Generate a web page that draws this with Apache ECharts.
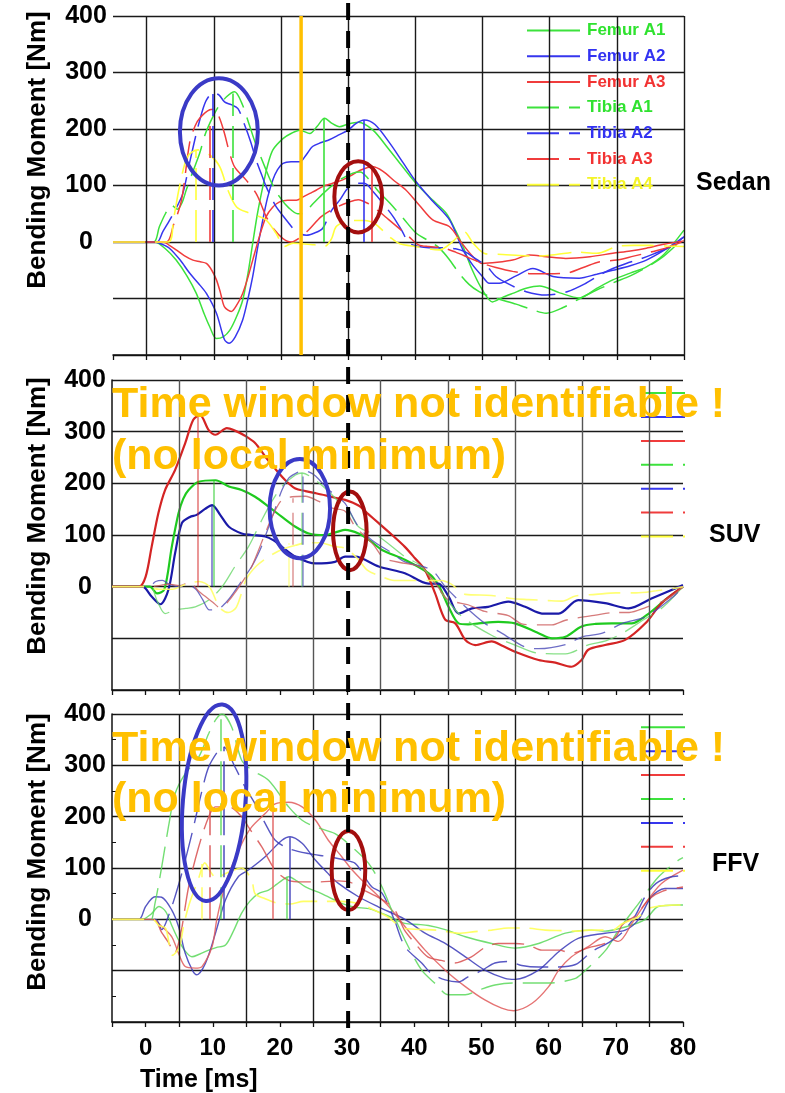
<!DOCTYPE html>
<html>
<head>
<meta charset="utf-8">
<script src="https://cdn.jsdelivr.net/npm/echarts@6/dist/echarts.min.js"></script>
<style>
  html, body { margin: 0; padding: 0; background: #ffffff; }
  #chart { width: 785px; height: 1093px; }
</style>
</head>
<body>
<div id="chart"></div>
<script>
// ---------- labels and ticks ----------
const seriesNames = ['Femur A1', 'Femur A2', 'Femur A3', 'Tibia A1', 'Tibia A2', 'Tibia A3', 'Tibia A4'];
const panelNames = ['Sedan', 'SUV', 'FFV'];
const xTickLabels = [0, 10, 20, 30, 40, 50, 60, 70, 80];
const yTickLabels = [0, 100, 200, 300, 400];
const sedanGridX = [0, 10, 20, 30, 40, 50, 60, 70, 80];
const otherGridX = [5, 15, 25, 35, 45, 55, 65, 75];
const windowT = [30];          // common evaluation time [ms]
const sedanOrangeT = [23];     // sedan time window limit [ms]

// ---------- Sedan: bending moment [Nm] over time [ms] ----------
const sedanFemurA1 = [[-5,0],[1.2,0],[2.8,-12],[4.4,-32],[6,-60],[7.4,-91],[8.5,-125],[9.4,-150],[10.4,-171],[11.4,-168],[12.4,-156],[13.4,-132],[14.3,-103],[15.1,-55],[15.8,-2],[16.5,50],[17.3,98],[18,135],[18.8,163],[20.3,183],[21.5,192],[22.8,198],[24.3,192],[25.4,205],[26.5,219],[27.6,210],[28.7,204],[30,209],[31.5,212],[33.7,198],[36,165],[38,135],[40.1,104],[42.5,75],[44.6,51],[46,20],[47.1,-8],[48.5,-50],[50,-85],[51.5,-106],[53,-98],[54.5,-91],[56.5,-82],[58.5,-78],[61.5,-90],[64.4,-99],[67,-82],[69.4,-67],[72,-55],[74.4,-44],[77,-22],[80,21]];
const sedanFemurA2 = [[-5,0],[1.2,0],[2.3,-4],[3.4,-11],[5,-32],[6.4,-55],[7.7,-73],[8.9,-91],[10.4,-126],[11.6,-173],[12.3,-179],[13.2,-168],[14.3,-138],[15.1,-100],[15.8,-61],[16.5,-12],[17.3,39],[18,78],[18.8,110],[19.5,128],[20.3,139],[21.5,142],[22.8,142],[23.8,155],[24.7,169],[26,176],[27.2,181],[28.7,190],[30,198],[31.2,210],[32.4,216],[34,208],[36.2,175],[38.2,140],[40.1,107],[42.6,72],[45.1,39],[47.1,-14],[48.5,-40],[50,-61],[51,-73],[52.5,-73],[55,-60],[57.5,-47],[60.5,-61],[64.4,-64],[67,-57],[69.4,-50],[72,-42],[74.4,-32],[77,-15],[80,9]];
const sedanFemurA3 = [[-5,0],[2.5,0],[3.4,-6],[4.4,-14],[5.6,-24],[6.9,-32],[8,-35],[8.9,-38],[9.7,-50],[10.4,-67],[11,-90],[11.6,-115],[12.6,-123],[13.5,-110],[14.3,-91],[15.1,-62],[15.8,-32],[16.8,10],[17.8,45],[18.8,62],[19.8,71],[21,74],[22.3,74],[23.3,80],[24.3,86],[25.3,92],[26.2,98],[27.7,104],[29.2,110],[30.5,118],[31.8,127],[33.7,133],[35.2,125],[36.9,108],[38.6,92],[40.6,65],[42.6,39],[45.1,27],[46.8,0],[48.6,-26],[50,-38],[52.2,-36],[54.5,-32],[57,-23],[59.5,-26],[62.4,-29],[66,-26],[69.4,-20],[72,-16],[74.4,-11],[77,-4],[80,2]];
const sedanTibiaA1 = [[-5,0],[1,0],[1.9,27],[2.8,50],[3.7,65],[4.6,58],[5.3,70],[5.9,92],[6.9,125],[7.9,157],[8.7,190],[9.4,210],[10.6,238],[11.9,257],[13.1,266],[14.2,245],[15.3,207],[16.2,175],[17.6,133],[18.6,105],[19.8,80],[21.2,60],[22.5,50],[23.3,51],[24.8,68],[26.3,86],[28.5,108],[30.7,122],[31.8,124],[33,112],[34.5,90],[36.2,69],[38.2,42],[40.1,16],[42,2],[43.5,-10],[45,-30],[46.5,-55],[48,-75],[49.5,-88],[51,-96],[53,-103],[55,-110],[57,-118],[59.5,-126],[62,-116],[64.5,-100],[67,-85],[69.5,-72],[72,-60],[74.4,-45],[77,-25],[80,8]];
const sedanTibiaA2 = [[-5,0],[1.5,0],[2.4,18],[3.5,40],[4.5,62],[5.4,86],[6.4,140],[7.4,192],[8.2,228],[8.9,251],[9.9,264],[10.8,260],[11.6,248],[12.6,243],[13.6,236],[14.5,210],[15.5,177],[16.3,145],[17.1,120],[17.8,98],[18.6,78],[19.3,62],[20.2,48],[21,36],[22.3,18],[23.8,12],[25,16],[26.2,24],[27.5,55],[28.8,75],[30,96],[31.2,104],[32.4,104],[33.8,88],[35.2,68],[36.7,45],[38,20],[39.1,-2],[40.5,-8],[42,-10],[44,-10],[46,-12],[47.5,-18],[49,-30],[50.5,-41],[52,-61],[54,-75],[56.5,-88],[59.5,-94],[62.6,-88],[65.4,-73],[67.5,-58],[69.4,-47],[71.4,-38],[73.5,-30],[75.5,-21],[78,-8],[80,9]];
const sedanTibiaA3 = [[-5,0],[2.9,0],[4,30],[5.2,74],[6.4,175],[7.2,205],[7.9,219],[9.4,234],[10.2,235],[10.9,218],[11.6,192],[12.3,160],[13.1,133],[14.8,110],[16.3,86],[17.1,65],[17.8,45],[19,22],[20.3,6],[21.5,0],[22.5,5],[24,20],[26,45],[28,60],[30,70],[31.5,75],[33,68],[34.5,55],[36,40],[37.5,25],[39,10],[40.5,-5],[42,-8],[44,-10],[46,-18],[48,-28],[50,-38],[52,-45],[54.5,-52],[57,-56],[59.5,-56],[62.5,-55],[65,-45],[67.5,-35],[70,-32],[72.5,-25],[75,-18],[77.5,-10],[80,2]];
const sedanTibiaA4 = [[-5,0],[3.2,0],[4,40],[4.9,98],[6.1,151],[7.6,163],[9.4,154],[10.9,133],[12.1,92],[13.4,62],[15.3,51],[16.5,46],[17.8,39],[19.3,15],[20.5,-8],[21.8,-2],[23,-3],[25,-5],[26.5,-8],[27.5,5],[28.2,27],[29.5,36],[31,38],[32.5,38],[34,32],[35.2,20],[36.2,9],[37.5,-2],[40,-8],[43.6,-14],[45.5,0],[47.3,18],[48.6,-2],[50.5,-21],[53,-22],[55.5,-24],[58,-25],[61,-22],[64,-18],[67,-20],[70,-8],[72.5,-6],[75,-6],[77.5,-7],[80,-8]];

// ---------- SUV ----------
const suvFemurA1 = [[-5,0],[0.6,0],[1.7,-13],[2.8,-5],[3.9,77],[4.9,142],[5.6,170],[6.4,187],[7.9,203],[10.4,206],[12.4,194],[14.3,187],[16.3,174],[18.3,155],[20.3,135],[22.3,116],[24.3,103],[26.7,100],[28.5,106],[29.7,110],[31.7,103],[33.5,88],[35.2,71],[38.6,52],[42.1,26],[43.6,3],[45.1,-39],[46.6,-71],[48,-73],[49.6,-71],[52.5,-68],[55,-71],[58.5,-90],[60.5,-100],[62.5,-97],[64.9,-77],[67,-72],[69.4,-71],[72.4,-71],[74.9,-52],[77.3,-26],[80,0]];
const suvFemurA2 = [[-5,0],[-0.5,0],[0.9,-19],[2.2,-34],[3.4,-6],[4.4,65],[5.4,123],[6.6,135],[7.6,139],[8.8,150],[9.9,158],[11.1,139],[12.4,116],[14.3,103],[15.8,100],[17.8,97],[19,90],[20.3,77],[22.3,58],[25.3,45],[28.2,48],[29.7,58],[31.2,58],[34.7,39],[38.6,26],[42.1,6],[43.6,6],[45.1,-19],[46.6,-52],[48.6,-42],[51,-39],[54,-29],[56.5,-39],[59,-52],[61.5,-52],[64.4,-26],[68.4,-32],[71.9,-42],[75.3,-23],[80,3]];
const suvFemurA3 = [[-5,0],[-1,0],[0,19],[0.9,77],[1.9,142],[2.9,187],[4.4,226],[5.9,278],[7.1,323],[8.1,332],[9.4,303],[10.4,294],[12.1,307],[13.3,302],[14.8,292],[16.3,278],[17.8,252],[19.3,228],[20.8,206],[22.3,190],[23.8,185],[25.3,181],[26.7,177],[28.2,172],[29.7,168],[31.7,157],[33.2,140],[34.7,123],[36.7,100],[38.6,77],[40.1,55],[41.6,32],[43.1,-13],[44.6,-64],[46.1,-71],[47.6,-103],[49.1,-113],[51.5,-106],[53.2,-115],[55,-126],[58.5,-142],[61,-147],[63.4,-155],[64.9,-142],[65.9,-122],[68.4,-113],[71.4,-103],[74.4,-71],[76.8,-32],[80,0]];
const suvTibiaA1 = [[-5,0],[0.6,0],[1.8,-30],[2.9,-52],[4.4,-45],[6,-42],[7.4,-39],[9.4,-26],[11.4,0],[13.3,39],[15.3,77],[17.3,129],[18.8,165],[20.3,194],[22.3,216],[23.3,220],[25.3,206],[27.2,185],[28.7,165],[30.2,148],[31.7,116],[34.7,97],[38.6,58],[41.1,39],[44.1,-13],[47.1,-58],[51.5,-94],[55,-113],[58.5,-129],[62.5,-130],[66,-112],[68.5,-105],[71,-90],[74,-65],[77,-40],[80,0]];
const suvTibiaA2 = [[-5,0],[0.5,0],[1.5,10],[2.5,12],[3.5,5],[5,0],[6.5,2],[7.5,-5],[8.5,-25],[9.5,-45],[10.5,-45],[12,-30],[13.2,-10],[14.5,15],[15.8,39],[17,70],[17.8,97],[19,140],[20.3,187],[21.3,210],[22.3,219],[23.3,224],[24.3,222],[25.3,214],[27.2,188],[28.5,175],[29.7,161],[31.7,116],[33.7,90],[36.7,65],[38.6,48],[42.6,32],[44.6,0],[47.6,-39],[50.5,-71],[53,-90],[56.5,-117],[58.5,-120],[62.5,-112],[65,-97],[68,-90],[71,-71],[74.5,-58],[78.5,-20],[80,0]];
const suvTibiaA3 = [[-5,0],[0.5,0],[2,2],[3.5,5],[5,2],[6.5,8],[8,-10],[10,-30],[11,-40],[12.2,-30],[13.5,-8],[14.7,15],[15.8,39],[17.8,103],[19,140],[20.3,168],[21.8,174],[23.8,175],[25.8,165],[27.8,152],[29.7,146],[31.2,116],[32.7,97],[34,80],[35.5,55],[38.6,45],[40.5,40],[42,25],[43.5,0],[45,-25],[48,-35],[50.5,-48],[54,-56],[56,-72],[58.5,-74],[60.5,-74],[62.5,-65],[67,-55],[70,-50],[72,-50],[74.5,-40],[77.5,-25],[80,0]];
const suvTibiaA4 = [[-5,0],[0,0],[2,-5],[4,-5],[6,5],[8,10],[9.5,0],[11,-40],[12.3,-50],[13.5,-40],[15,15],[16.5,40],[18.3,58],[20.3,72],[22.3,80],[24,85],[26,85],[28,78],[29.8,74],[31.5,55],[33,32],[35,20],[37,12],[38.6,12],[42.5,12],[44,12],[45.5,5],[47.6,-15],[51.5,-17],[54.5,-23],[57,-25],[60,-27],[62,-28],[64,-18],[67,-15],[70,-12],[73,-12],[76,-8],[78.8,-3],[80,0]];

// ---------- FFV ----------
const ffvFemurA1 = [[-5,0],[-0.5,0],[0.8,10],[2,25],[3,15],[4,-15],[4.9,-40],[5.9,-62],[6.9,-73],[8,-68],[9.4,-60],[10.5,-55],[11.9,-50],[13,-25],[14.3,12],[15.5,35],[16.8,50],[18.3,57],[19.5,68],[20.3,76],[21.3,83],[22.5,75],[23.8,63],[26.2,50],[29.2,31],[31,24],[33.5,20],[36.2,6],[38.6,-8],[40.6,-10],[42.1,-12],[44.6,-20],[47.6,-34],[51.5,-47],[55,-56],[58.5,-47],[62.5,-27],[66.4,-21],[68.4,-23],[71.4,-15],[74.4,0],[76.3,25],[79.3,28],[80,28]];
const ffvFemurA2 = [[-5,0],[-1,0],[0,25],[1.4,44],[2.4,43],[3.9,18],[4.9,-14],[5.9,-66],[7,-100],[7.6,-108],[8.9,-86],[10.4,-27],[11.9,38],[13.8,83],[15.3,96],[17.8,122],[20.3,154],[21.5,161],[23.3,148],[25.3,115],[27.2,89],[28.7,70],[31.7,44],[34.7,24],[38.6,0],[41.6,-27],[44.6,-47],[47.6,-73],[50.5,-99],[53.5,-115],[55,-117],[58.5,-99],[61.5,-63],[64.4,-37],[68.4,-27],[71.4,-21],[73.4,0],[75.3,44],[77.3,60],[80,60]];
const ffvFemurA3 = [[-5,0],[1,0],[2.4,-14],[3.9,-34],[4.9,-66],[5.9,-92],[7.4,-95],[8.4,-92],[9.9,-53],[10.6,0],[11.5,50],[12.4,89],[14.3,147],[15.8,180],[17.8,206],[19.3,225],[21.3,228],[23.3,219],[25.3,193],[27.2,154],[29.2,122],[30.5,100],[31.7,83],[33.7,57],[36.2,25],[38.6,-14],[41.6,-60],[44.6,-99],[47.6,-131],[50.5,-157],[53,-173],[54.8,-178],[57.5,-164],[60,-131],[61.5,-99],[63.4,-73],[65.9,-53],[68.4,-34],[70.4,-43],[72.4,-8],[74.4,31],[76.8,70],[80,96]];
const ffvTibiaA1 = [[-5,0],[0,0],[0.7,-5],[1.4,31],[2.4,102],[3.4,180],[4.4,245],[5.9,284],[7.9,316],[9.4,362],[10.5,390],[11.4,400],[12.8,375],[14.3,310],[15.8,291],[18.3,271],[21.3,219],[23.3,193],[25.3,180],[28.2,167],[30.2,147],[33.2,109],[35.2,63],[37.2,0],[39.1,-53],[41.1,-99],[43.1,-125],[45.1,-147],[47.6,-147],[49.6,-138],[52,-128],[54.6,-124],[57.5,-124],[60,-124],[64,-115],[65.5,-99],[68.5,-60],[70.4,-21],[73.4,31],[76.3,82],[79.3,115],[80,120]];
const ffvTibiaA2 = [[-5,0],[1.5,0],[2.4,-20],[3.5,10],[4.4,45],[5.4,90],[6.9,167],[8.4,251],[9.4,297],[10.9,330],[11.6,336],[13.3,297],[14.8,258],[16.3,225],[17.8,187],[19.3,154],[21.3,138],[24.3,128],[27.2,122],[29.5,116],[31.2,109],[32.5,85],[33.7,63],[35.2,51],[37,0],[38.6,-53],[41.1,-85],[42.5,-105],[44.6,-118],[46.6,-122],[48,-112],[50,-100],[52,-85],[54,-82],[56,-90],[58.5,-93],[61,-93],[64,-88],[66.5,-62],[69,-45],[71,-25],[72.8,5],[74.4,45],[76,70],[78,82],[80,85]];
const ffvTibiaA3 = [[-5,0],[1.2,0],[2.4,-26],[3.4,-45],[4.3,-66],[5.2,-30],[6.4,63],[7.9,141],[9.4,200],[10.4,219],[12.4,219],[14.3,200],[15.3,180],[17.3,141],[19.3,96],[21.3,76],[23.3,73],[26,73],[28.7,75],[30.5,72],[32,60],[35,40],[37,20],[38.5,-20],[40,-45],[42,-73],[44,-80],[46,-85],[48.5,-73],[50.5,-55],[52.5,-47],[55,-47],[57,-50],[59,-60],[61.5,-60],[63.4,-66],[66,-55],[68.4,-47],[70,-34],[71,-10],[73,8],[75,40],[77,55],[80,63]];
const ffvTibiaA4 = [[-5,0],[1,0],[2,-12],[3,-18],[4,-70],[5,-55],[5.7,-10],[6.5,30],[7.9,80],[8.8,110],[9.8,90],[10.5,80],[12,90],[14.3,100],[15.8,76],[16.3,50],[17.8,40],[19.5,32],[21.5,30],[23.5,35],[26,35],[29,35],[31.7,31],[33.7,20],[36,5],[38.6,-18],[42,-20],[44,-22],[46.6,-27],[49,-24],[51.5,-21],[54,-17],[56.5,-17],[59.5,-21],[62,-22],[64,-23],[66,-21],[69.5,-21],[71,-8],[73.4,5],[75,22],[79.3,28],[80,28]];

// peak markers: [series index, time ms, moment Nm]
const sedanPeaks = [[6,7.3,163],[5,9.4,212],[4,9.8,262],[3,12.9,263],[0,26.4,219],[1,32.4,216],[2,33.5,130]];
const suvPeaks = [[2,7.8,329],[1,9.8,158],[0,10.1,206],[6,21.3,84],[5,21.9,171],[3,23.2,220],[4,23.4,213]];
const ffvPeaks = [[6,8.4,108],[5,9.5,219],[3,11.2,400],[4,11.6,336],[2,19,225],[0,21,83],[1,21.4,160]];

// highlighted regions: [centre ms, centre Nm, width ms, height Nm, tilt deg]
const sedanRings = [[10.76,195,11.6,190,0],[31.5,80,7.1,126,0]];
const suvRings = [[22.96,151,9,192,0],[30.4,108,5,152,0]];
const ffvRings = [[10.2,227,9.3,384,-4.8],[30.2,95,5,154,0]];

// ---------- styling ----------
const FONT = '"Liberation Sans", Arial, Helvetica, sans-serif';
const DASH = [32, 10];
const RING_COLORS = ['#3a3ac6', '#a30e0e'];
const LEGEND_TEXT = ['#2fe22f', '#3232f2', '#f23232', '#2fe22f', '#3232f2', '#f23232', '#f4f428'];
const panelStyle = [
  { colors: ['#3ce23c', '#3636ee', '#f03c3c', '#3ce23c', '#3636ee', '#f03c3c', '#ffff3a'],
    widths: [1.5, 1.5, 1.5, 1.5, 1.5, 1.5, 1.6], opacity: [1, 1, 1, 1, 1, 1, 1], markOpacity: 1 },
  { colors: ['#1fca1f', '#1a1aa8', '#d42424', '#6ad86a', '#4a4ab8', '#cc5a5a', '#ffff66'],
    widths: [2.2, 2.2, 2.2, 1.3, 1.3, 1.3, 1.6], opacity: [1, 1, 1, 0.8, 0.8, 0.8, 0.9], markOpacity: 0.6 },
  { colors: ['#5ad85a', '#3a3ab8', '#e05a5a', '#5ad85a', '#3a3ab8', '#d85050', '#ffff55'],
    widths: [1.4, 1.4, 1.4, 1.4, 1.4, 1.4, 1.6], opacity: [0.85, 0.85, 0.85, 0.85, 0.85, 0.85, 0.9], markOpacity: 0.85 }
];

const curveSets = [
  [sedanFemurA1, sedanFemurA2, sedanFemurA3, sedanTibiaA1, sedanTibiaA2, sedanTibiaA3, sedanTibiaA4],
  [suvFemurA1, suvFemurA2, suvFemurA3, suvTibiaA1, suvTibiaA2, suvTibiaA3, suvTibiaA4],
  [ffvFemurA1, ffvFemurA2, ffvFemurA3, ffvTibiaA1, ffvTibiaA2, ffvTibiaA3, ffvTibiaA4]
];
const peakSets = [sedanPeaks, suvPeaks, ffvPeaks];
const ringSets = [sedanRings, suvRings, ffvRings];
const gridXSets = [sedanGridX, otherGridX, otherGridX];

const grids = [
  { left: 113, top: 16, width: 571, height: 339 },
  { left: 112, top: 380, width: 571, height: 310 },
  { left: 112, top: 714, width: 571, height: 308 }
];

const xAxes = grids.map((g, p) => ({
  gridIndex: p, type: 'value', min: -5, max: 80, interval: 5,
  axisLine: { show: true, onZero: false, lineStyle: { color: '#111', width: 1.5 } },
  axisTick: { show: true, length: 5, lineStyle: { color: '#111', width: 1.3 } },
  splitLine: { show: false },
  axisLabel: {
    show: p === 2, margin: 14, fontSize: 24, fontWeight: 'bold', fontFamily: FONT, color: '#000',
    formatter: v => (xTickLabels.indexOf(v) >= 0 ? String(v) : '')
  }
}));

const yAxes = grids.map((g, p) => ({
  gridIndex: p, type: 'value', min: -200, max: 400, interval: 100,
  axisLine: { show: p > 0, onZero: false, lineStyle: { color: '#111', width: 1.5 } },
  axisTick: { show: p === 2, inside: true, length: 4, lineStyle: { color: '#111' } },
  minorTick: { show: p === 2, splitNumber: 2, length: 4, lineStyle: { color: '#111' } },
  splitLine: { show: true, lineStyle: { color: '#1a1a1a', width: 1.4 } },
  axisLabel: {
    margin: 27, align: 'center', fontSize: 25, fontWeight: 'bold', fontFamily: FONT, color: '#000',
    padding: [8, 0, 0, 0],
    formatter: v => (yTickLabels.indexOf(v) >= 0 ? String(v) : '')
  }
}));

const series = [];
for (let p = 0; p < 3; p++) {
  const st = panelStyle[p];
  // vertical grid lines
  series.push({
    type: 'line', xAxisIndex: p, yAxisIndex: p, data: [], silent: true, z: 1,
    markLine: {
      silent: true, symbol: ['none', 'none'], label: { show: false },
      lineStyle: { color: p === 1 ? '#555' : '#1a1a1a', width: 1.4, type: 'solid' },
      data: gridXSets[p].map(x => ({ xAxis: x }))
    }
  });
  // measured curves with their peak markers
  curveSets[p].forEach((curve, i) => {
    const dashed = i >= 3;
    const color = st.colors[i];
    const peaks = peakSets[p].filter(k => k[0] === i);
    series.push({
      type: 'line', name: seriesNames[i], xAxisIndex: p, yAxisIndex: p, z: 2,
      data: curve, smooth: 0.3, symbol: 'none', showSymbol: false, silent: true,
      itemStyle: { color: color },
      lineStyle: { color: color, width: st.widths[i], type: dashed ? DASH : 'solid', opacity: st.opacity[i] },
      markLine: {
        silent: true, symbol: ['none', 'none'], label: { show: false },
        lineStyle: { color: color, width: 1.6, type: dashed ? DASH : 'solid', opacity: st.markOpacity },
        data: peaks.map(k => [{ coord: [k[1], 0] }, { coord: [k[1], k[2]] }])
      }
    });
  });
  // circled regions
  series.push({
    type: 'custom', xAxisIndex: p, yAxisIndex: p, z: 6, silent: true, clip: false,
    data: ringSets[p], encode: { x: 0, y: 1 },
    renderItem: (params, api) => {
      const c = api.coord([api.value(0), api.value(1)]);
      const s = api.size([api.value(2), api.value(3)]);
      return {
        type: 'ellipse', x: c[0], y: c[1], rotation: api.value(4) * Math.PI / 180,
        shape: { cx: 0, cy: 0, rx: s[0] / 2, ry: s[1] / 2 },
        style: { fill: 'none', stroke: RING_COLORS[params.dataIndex], lineWidth: 4 }
      };
    }
  });
}
// sedan time window limit
series.push({
  type: 'line', xAxisIndex: 0, yAxisIndex: 0, z: 4, silent: true, symbol: 'none',
  data: [[sedanOrangeT[0], -200], [sedanOrangeT[0], 400]],
  lineStyle: { color: '#ffc000', width: 3.5 }
});

const legends = [
  {
    left: 526, top: 22, padding: 0, orient: 'vertical', itemWidth: 53, itemHeight: 14, itemGap: 8.7,
    selectedMode: false, itemStyle: { opacity: 0 },
    data: seriesNames.map((n, i) => ({ name: n, textStyle: { color: LEGEND_TEXT[i] } })),
    textStyle: { fontSize: 17, fontWeight: 'bold', fontFamily: FONT, lineHeight: 14, padding: [0, 0, 0, 2] }
  },
  {
    left: 640, top: 387.5, padding: 0, orient: 'vertical', itemWidth: 44, itemHeight: 14, itemGap: 12.7,
    selectedMode: false, itemStyle: { opacity: 0 }, data: seriesNames.slice(),
    formatter: () => '', textStyle: { fontSize: 10, lineHeight: 14 }
  },
  {
    left: 640, top: 721.7, padding: 0, orient: 'vertical', itemWidth: 44, itemHeight: 14, itemGap: 12.7,
    selectedMode: false, itemStyle: { opacity: 0 }, data: seriesNames.slice(),
    formatter: () => '', textStyle: { fontSize: 10, lineHeight: 14 }
  }
];

const chart = echarts.init(document.getElementById('chart'), null, { renderer: 'canvas' });
chart.setOption({
  animation: false,
  backgroundColor: '#ffffff',
  grid: grids,
  xAxis: xAxes,
  yAxis: yAxes,
  legend: legends,
  series: series
});

// overlay texts and the common evaluation time line
const x30 = chart.convertToPixel({ xAxisIndex: 0 }, windowT[0]);
const yTop = chart.convertToPixel({ yAxisIndex: 0 }, 400);
const yBottom = chart.convertToPixel({ yAxisIndex: 2 }, -200);
const boldFont = size => 'bold ' + size + 'px ' + FONT;
const txt = (x, y, text, size, color, extra) => Object.assign({
  type: 'text', x: x, y: y, z: 100, silent: true,
  style: { text: text, font: boldFont(size), fill: color, align: 'left', verticalAlign: 'middle' }
}, extra || {});

const titleCentres = [150, 516, 852];
const panelLabelPos = [[696, 183], [709, 535], [712, 864]];
const graphics = [];
titleCentres.forEach(cy => graphics.push({
  type: 'text', x: 38, y: cy, z: 100, silent: true, rotation: Math.PI / 2,
  style: { text: 'Bending Moment [Nm]', font: boldFont(26), fill: '#000', align: 'center', verticalAlign: 'middle' }
}));
panelNames.forEach((n, i) => graphics.push(txt(panelLabelPos[i][0], panelLabelPos[i][1], n, 25, '#000')));
graphics.push(txt(140, 1080, 'Time [ms]', 25, '#000'));
[[405, 457], [749, 800]].forEach(rows => {
  graphics.push(txt(112, rows[0], 'Time window not identifiable !', 43, '#ffc000'));
  graphics.push(txt(112, rows[1], '(no local minimum)', 43, '#ffc000'));
});
graphics.push({
  type: 'line', z: 90, silent: true,
  shape: { x1: x30, y1: yTop - 13, x2: x30, y2: yBottom + 8 },
  style: { stroke: '#000', lineWidth: 4, lineDash: [17, 11] }
});
chart.setOption({ graphic: graphics });
</script>
</body>
</html>
